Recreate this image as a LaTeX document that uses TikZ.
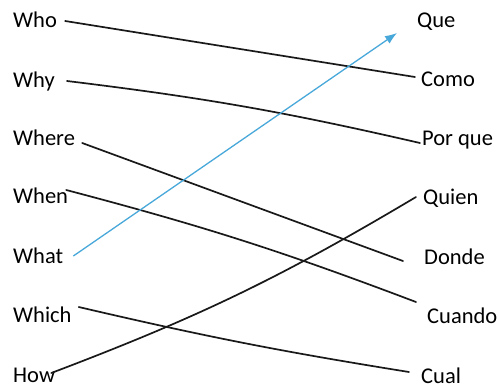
\documentclass[tikz,border=0pt]{standalone}
\usepackage{fontspec}
\setmainfont{Carlito}
\usetikzlibrary{arrows.meta}
\definecolor{pointer}{RGB}{72,168,218}

\begin{document}
\begin{tikzpicture}[x=1pt,y=-1pt,
  word/.style={font=\fontsize{22.5}{27}\selectfont, inner sep=0pt, anchor=base west},
  link/.style={line width=1.7pt, black!90, line cap=round},
  guess/.style={line width=1.3pt, pointer, -{Latex[length=12pt,width=9pt]}}]
  \useasboundingbox (0,0) rectangle (499,389);

  % english words
  \node[word] (who)   at (13,27)  {Who};
  \node[word] (why)   at (13,87)  {Why};
  \node[word] (where) at (13,145) {Where};
  \node[word] (when)  at (13,203) {When};
  \node[word] (what)  at (13,263) {What};
  \node[word] (which) at (13,322) {Which};
  \node[word] (how)   at (13,382) {How};

  % spanish words
  \node[word] (que)    at (417,27)  {Que};
  \node[word] (como)   at (421,86)  {Como};
  \node[word] (porque) at (422,145) {Por que};
  \node[word] (quien)  at (423,204) {Quien};
  \node[word] (donde)  at (424,264) {Donde};
  \node[word] (cuando) at (427,323) {Cuando};
  \node[word] (cual)   at (421,383) {Cual};

  % matching lines
  \draw[link] ([shift={(8,-6)}]who.base east) -- ([shift={(-6,-9)}]como.base west);
  \draw[link] ([shift={(12,-6)}]why.base east) to[bend left=3] ([shift={(-2,-2)}]porque.base west);
  \draw[link] ([shift={(7,-2)}]where.base east) -- ([shift={(-21,-3)}]donde.base west);
  \draw[link] ([shift={(-2,-13)}]when.base east) to[bend left=3] ([shift={(-11,-21)}]cuando.base west);
  \draw[link] ([shift={(7,-15)}]which.base east) to[bend right=2] ([shift={(-12,-11)}]cual.base west);
  \draw[link] ([shift={(-4,-9)}]how.base east) to[bend right=5] ([shift={(-7,-7)}]quien.base west);

  % the blue one
  \draw[guess] ([shift={(10,-7)}]what.base east) -- ([shift={(-20,6)}]que.base west);
\end{tikzpicture}
\end{document}
